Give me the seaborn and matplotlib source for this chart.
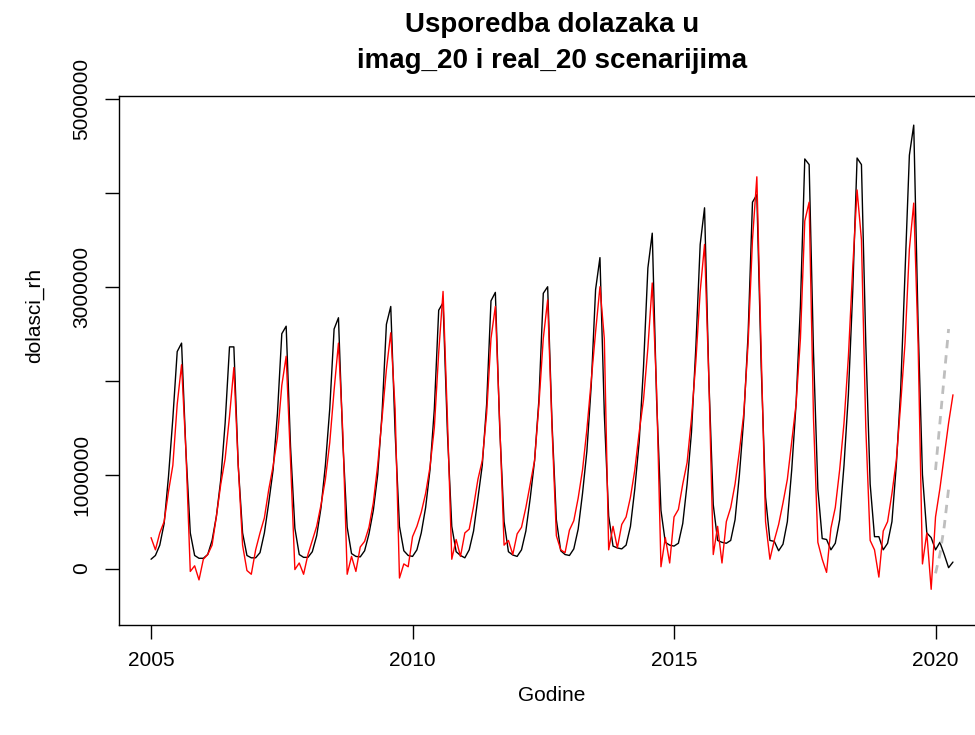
import numpy as np
import pandas as pd
import matplotlib
matplotlib.use("Agg")
import matplotlib.pyplot as plt
import seaborn as sns

# mjesecni dolasci (u tisucama), sijecanj - prosinac
real_2005 = [100, 140, 250, 480, 980, 1600, 2310, 2400, 1250, 380, 140, 110]
real_2006 = [110, 150, 300, 560, 950, 1550, 2360, 2360, 1100, 380, 140, 115]
real_2007 = [115, 170, 380, 700, 1050, 1650, 2500, 2580, 1300, 430, 150, 120]
real_2008 = [120, 180, 350, 650, 1100, 1700, 2550, 2670, 1350, 440, 160, 130]
real_2009 = [125, 190, 370, 620, 1000, 1650, 2600, 2790, 1450, 450, 190, 140]
real_2010 = [130, 200, 380, 650, 1050, 1700, 2750, 2830, 1450, 450, 180, 140]
real_2011 = [115, 200, 400, 750, 1100, 1750, 2850, 2940, 1500, 500, 180, 145]
real_2012 = [130, 200, 400, 750, 1150, 1800, 2930, 3000, 1550, 520, 190, 150]
real_2013 = [140, 210, 420, 800, 1250, 1950, 2970, 3310, 1650, 560, 240, 220]
real_2014 = [210, 250, 450, 850, 1350, 2150, 3200, 3570, 1800, 620, 280, 250]
real_2015 = [240, 270, 480, 900, 1450, 2350, 3450, 3840, 2000, 680, 300, 280]
real_2016 = [270, 300, 520, 1000, 1600, 2500, 3900, 3980, 2150, 760, 300, 290]
real_2017 = [190, 260, 500, 1050, 1750, 2800, 4360, 4300, 2300, 850, 320, 310]
real_2018 = [200, 270, 520, 1100, 1850, 2950, 4370, 4300, 2400, 900, 340, 340]
real_2019 = [200, 270, 500, 1100, 1900, 3150, 4400, 4720, 2600, 1000, 380, 330]
real_2020 = [200, 280, 150, 10, 70]

imag_2005 = [330, 200, 380, 500, 820, 1100, 1750, 2170, 1250, -30, 30, -120]
imag_2006 = [100, 150, 250, 560, 900, 1170, 1620, 2140, 1100, 250, -20, -60]
imag_2007 = [200, 380, 540, 840, 1090, 1400, 1950, 2260, 1150, -10, 60, -60]
imag_2008 = [150, 300, 450, 680, 950, 1340, 1900, 2400, 1450, -60, 130, -30]
imag_2009 = [230, 290, 440, 700, 1100, 1600, 2120, 2510, 1700, -100, 50, 20]
imag_2010 = [340, 450, 600, 800, 1080, 1500, 2300, 2950, 1600, 100, 310, 130]
imag_2011 = [380, 420, 660, 950, 1150, 1650, 2450, 2790, 1550, 250, 300, 150]
imag_2012 = [370, 440, 650, 900, 1150, 1750, 2450, 2860, 1500, 350, 200, 170]
imag_2013 = [410, 510, 750, 1050, 1480, 2000, 2520, 3000, 2450, 200, 450, 220]
imag_2014 = [470, 550, 760, 1050, 1450, 1800, 2350, 3040, 1900, 20, 330, 60]
imag_2015 = [550, 630, 900, 1130, 1600, 2200, 2950, 3450, 2000, 150, 450, 60]
imag_2016 = [500, 650, 900, 1250, 1650, 2400, 3500, 4170, 2300, 500, 100, 300]
imag_2017 = [470, 700, 950, 1350, 1750, 2450, 3700, 3900, 1600, 280, 100, -40]
imag_2018 = [430, 650, 1050, 1550, 2250, 3200, 4030, 3500, 1500, 300, 200, -90]
imag_2019 = [400, 500, 800, 1150, 1750, 2400, 3400, 3890, 2400, 50, 380, -220]
imag_2020 = [550, 850, 1200, 1550, 1850]

# sivi isprekidani dio, sijecanj - travanj 2020
grey_low = [-50, 150, 450, 850]
grey_high = [1050, 1550, 2050, 2550]

real_rh = sum([real_2005, real_2006, real_2007, real_2008, real_2009, real_2010,
               real_2011, real_2012, real_2013, real_2014, real_2015, real_2016,
               real_2017, real_2018, real_2019, real_2020], [])
imag_rh = sum([imag_2005, imag_2006, imag_2007, imag_2008, imag_2009, imag_2010,
               imag_2011, imag_2012, imag_2013, imag_2014, imag_2015, imag_2016,
               imag_2017, imag_2018, imag_2019, imag_2020], [])

# vremenska os kao kod R ts (frequency = 12)
t = 2005 + np.arange(len(real_rh)) / 12
t_grey = 2020 + np.arange(len(grey_low)) / 12

df_real = pd.DataFrame({"godina": t, "dolasci": np.array(real_rh) * 1000})
df_imag = pd.DataFrame({"godina": t, "dolasci": np.array(imag_rh) * 1000})
df_grey = pd.DataFrame({
    "godina": np.concatenate([t_grey, t_grey]),
    "dolasci": np.array(grey_low + grey_high) * 1000,
    "seg": ["low"] * len(grey_low) + ["high"] * len(grey_high),
})

sns.set_theme(style="white")
plt.rcParams["font.family"] = ["Liberation Sans", "DejaVu Sans"]

fig = plt.figure(figsize=(9.75, 7.35), dpi=100)
ax = fig.add_axes([119 / 975, 1 - 625 / 735, 866 / 975, 529 / 735])

sns.lineplot(data=df_real, x="godina", y="dolasci", color="black", lw=1.0, ax=ax)
sns.lineplot(data=df_imag, x="godina", y="dolasci", color="#ff0000", lw=1.0, ax=ax)
sns.lineplot(data=df_grey, x="godina", y="dolasci", units="seg", estimator=None,
             color="#bebebe", lw=2.0, linestyle=(0, (3, 2.5)), ax=ax)

ax.set_xlim(2004.387, 2020.946)
ax.set_ylim(-600000, 5030000)

ax.set_xticks([2005, 2010, 2015, 2020])
ax.set_xticklabels(["2005", "2010", "2015", "2020"])
ax.set_yticks([0, 1000000, 2000000, 3000000, 4000000, 5000000])
ax.set_yticklabels(["0", "1000000", "", "3000000", "", "5000000"],
                   rotation=90, va="center")
ax.tick_params(axis="both", direction="out", length=10, width=1, color="black",
               labelsize=15, labelcolor="black", bottom=True, left=True)
ax.tick_params(axis="x", pad=9)
ax.tick_params(axis="y", pad=10)

for s in ax.spines.values():
    s.set_color("black")
    s.set_linewidth(1)

ax.set_xlabel("Godine", fontsize=15, color="black")
ax.set_ylabel("dolasci_rh", fontsize=15, color="black")
ax.xaxis.set_label_coords(0.5, -0.115)
ax.yaxis.set_label_coords(-0.087, 0.585)

fig.text(552 / 975, 1 - 32 / 735, "Usporedba dolazaka u", ha="center",
         va="baseline", fontsize=20, fontweight="bold", color="black")
fig.text(552 / 975, 1 - 68 / 735, "imag_20 i real_20 scenarijima", ha="center",
         va="baseline", fontsize=20, fontweight="bold", color="black")

fig.savefig("out.png", dpi=100)
